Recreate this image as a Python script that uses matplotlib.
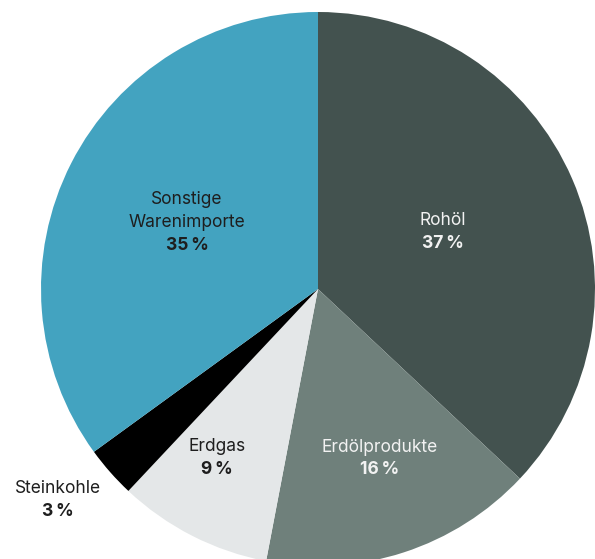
import matplotlib
matplotlib.use("Agg")
import matplotlib.pyplot as plt

# Import shares (percent), listed clockwise from the top
categories = ["Rohöl", "Erdölprodukte", "Erdgas", "Steinkohle", "Sonstige\nWarenimporte"]
shares = [37, 16, 9, 3, 35]
pct_labels = ["37\u2009%", "16\u2009%", "9\u2009%", "3\u2009%", "35\u2009%"]

colors = ["#43524f", "#6f807b", "#e4e7e8", "#000000", "#43a3c0"]
text_colors = ["#f2f2f2", "#f2f2f2", "#1e1e1e", "#1e1e1e", "#1e1e1e"]
# pixel position of each label block's percentage line
label_px = [(443, 243), (380, 470), (217, 469), (58, 511), (187, 245)]

W, H = 595, 559
cx, cy, R = 318, 289, 277

fig = plt.figure(figsize=(W / 100, H / 100), dpi=100)
ax = fig.add_axes([(cx - R) / W, (H - cy - R) / H, 2 * R / W, 2 * R / H])

ax.pie(shares, colors=colors, startangle=90, counterclock=False, radius=1,
       wedgeprops=dict(linewidth=0), frame=False)
ax.set_xlim(-1, 1)
ax.set_ylim(-1, 1)
ax.set_aspect("equal")
ax.axis("off")

font = ["Inter", "DejaVu Sans"]
for name, pct, tc, (px, py) in zip(categories, pct_labels, text_colors, label_px):
    x = (px - cx) / R
    ax.text(x, (cy - py) / R, pct, ha="center", va="center", fontsize=12.5,
            fontweight="bold", color=tc, family=font)
    ax.text(x, (cy - (py - 14)) / R, name, ha="center", va="bottom",
            fontsize=12.5, color=tc, family=font, linespacing=1.45)

fig.savefig("out.png", dpi=100)
